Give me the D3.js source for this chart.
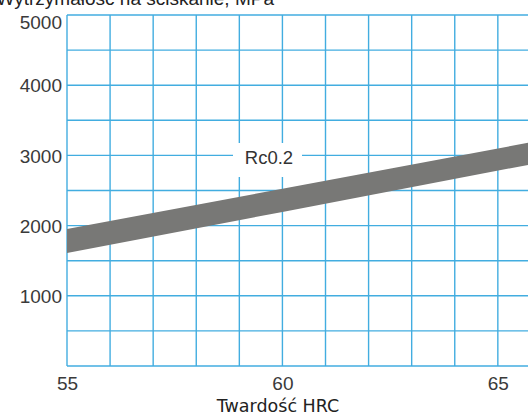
<!DOCTYPE html>
<html>
<head>
<meta charset="utf-8">
<script src="https://cdn.jsdelivr.net/npm/d3@7"></script>
<style>
  body { margin: 0; background: #fff; }
  svg { display: block; }
</style>
</head>
<body>
<div id="chart"></div>
<script>
let width = 528,
    height = 416,
    margin = ({ top: 15, right: 0, bottom: 50, left: 67 });

// band (HRC -> MPa)
const hrc = [55, 60, 65.7];
const upper = [1950, 2525, 3180];
const lower = [1610, 2195, 2865];
const yTicks = [1000, 2000, 3000, 4000, 5000];
const xTicks = [55, 60, 65];
const title = "Wytrzymałość na ściskanie, MPa";
const xTitle = "Twardość HRC";
const bandLabel = "Rc0.2";

const data = hrc.map((h, i) => ({ h, lo: lower[i], hi: upper[i] }));

const svg = d3.select("#chart")
  .append("svg")
  .attr("width", width)
  .attr("height", height);

let x = d3.scaleLinear()
  .domain([55, 65.7])
  .range([margin.left, 528]);

let y = d3.scaleLinear()
  .domain([0, 5000])
  .range([366, margin.top]);

const gridColor = "#42ade0";

// grid
svg.append("g")
  .attr("stroke", gridColor)
  .attr("stroke-width", 1.4)
  .selectAll("line")
  .data(d3.range(500, 5001, 500))
  .join("line")
  .attr("x1", x(55))
  .attr("x2", width)
  .attr("y1", d => y(d))
  .attr("y2", d => y(d));

svg.append("g")
  .attr("stroke", gridColor)
  .attr("stroke-width", 1.4)
  .selectAll("line")
  .data(d3.range(55, 66, 1))
  .join("line")
  .attr("x1", d => x(d))
  .attr("x2", d => x(d))
  .attr("y1", y(0))
  .attr("y2", y(5000));

svg.append("line")
  .attr("stroke", gridColor)
  .attr("stroke-width", 1.6)
  .attr("x1", x(55)).attr("x2", width)
  .attr("y1", y(0)).attr("y2", y(0));

// band
svg.append("clipPath").attr("id", "clip")
  .append("rect")
  .attr("x", x(55)).attr("y", y(5000))
  .attr("width", width - x(55)).attr("height", y(0) - y(5000));

const area = d3.area()
  .x(d => x(d.h))
  .y0(d => y(d.lo))
  .y1(d => y(d.hi));

svg.append("path")
  .datum(data)
  .attr("clip-path", "url(#clip)")
  .attr("fill", "#787876")
  .attr("d", area);

// label box
svg.append("rect")
  .attr("x", 233).attr("y", 143)
  .attr("width", 69).attr("height", 34)
  .attr("fill", "#fff");

svg.append("text")
  .attr("x", 269).attr("y", 164)
  .attr("text-anchor", "middle")
  .attr("font-family", "Liberation Sans, Arial, sans-serif")
  .attr("font-size", 18.5)
  .attr("fill", "#333")
  .text(bandLabel);

// axes
const yAxis = svg.append("g")
  .attr("transform", `translate(${margin.left},0)`)
  .call(d3.axisLeft(y).tickValues(yTicks).tickFormat(d3.format("d")).tickSize(0).tickPadding(5));
yAxis.select(".domain").remove();
yAxis.selectAll("text")
  .attr("font-family", "Liberation Sans, Arial, sans-serif")
  .attr("font-size", 19)
  .attr("fill", "#3a3a3a")
  .attr("dy", d => d === 5000 ? "0.72em" : "0.35em");

const xAxis = svg.append("g")
  .attr("transform", `translate(0,${y(0)})`)
  .call(d3.axisBottom(x).tickValues(xTicks).tickSize(0).tickPadding(11));
xAxis.select(".domain").remove();
xAxis.selectAll("text")
  .attr("font-family", "Liberation Sans, Arial, sans-serif")
  .attr("font-size", 19)
  .attr("fill", "#3a3a3a");

svg.append("text")
  .attr("x", 278).attr("y", 412)
  .attr("text-anchor", "middle")
  .attr("font-family", "DejaVu Sans, Verdana, sans-serif")
  .attr("font-size", 17.5)
  .attr("fill", "#222")
  .text(xTitle);

svg.append("text")
  .attr("x", 274).attr("y", 5)
  .attr("text-anchor", "end")
  .attr("font-family", "Liberation Sans, Arial, sans-serif")
  .attr("font-size", 19)
  .attr("fill", "#222")
  .text(title);
</script>
</body>
</html>
